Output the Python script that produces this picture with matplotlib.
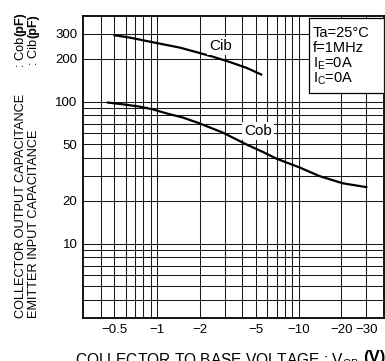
import matplotlib
matplotlib.use("Agg")
import matplotlib.pyplot as plt
from matplotlib.patches import Rectangle


FONT = ["Liberation Sans", "DejaVu Sans"]

# values (Vcb magnitude in V, capacitance in pF)
cib_vcb = [0.5, 0.64, 0.84, 1.1, 1.44, 1.89, 2.47, 3.25, 4.26, 5.44]
cib_pf = [293, 282, 267, 253, 240, 223, 207, 190, 173, 155]

cob_vcb = [0.45, 0.57, 0.75, 0.93, 1.16, 1.52, 1.99, 2.91, 4.26, 5.59,
           6.95, 10.2, 14.0, 20.5, 30.0]
cob_pf = [98.4, 95.7, 92.2, 88.2, 82.7, 77.2, 70.3, 60.5, 50.0, 44.2,
          39.7, 34.3, 29.9, 26.6, 25.0]

x_major = [0.5, 1, 2, 5, 10, 20, 30]
x_minor = [0.4, 0.6, 0.7, 0.8, 0.9, 3, 4, 6, 7, 8, 9]
x_labels = ["\u22120.5", "\u22121", "\u22122", "\u22125", "\u221210",
            "\u221220", "\u221230"]

y_major = [10, 20, 50, 100, 200, 300]
y_minor = [4, 5, 6, 7, 8, 9, 30, 40, 60, 70, 80, 90]
y_labels = ["10", "20", "50", "100", "200", "300"]

conditions = ["Ta=25\u00b0C", "f=1MHz", r"I$_\mathregular{E}$=0A",
              r"I$_\mathregular{C}$=0A"]


def main():
    plt.rcParams["font.family"] = FONT
    plt.rcParams["mathtext.default"] = "regular"

    fig = plt.figure(figsize=(3.85, 3.61), dpi=100)
    ax = fig.add_axes([83 / 385, 1 - 318 / 361, 301 / 385, 302 / 361])

    ax.set_xscale("log")
    ax.set_yscale("log")
    ax.set_xlim(0.3, 40)
    ax.set_ylim(3, 400)

    ax.set_xticks(x_major)
    ax.set_xticklabels(x_labels)
    ax.set_xticks(x_minor, minor=True)
    ax.set_xticklabels([], minor=True)
    ax.set_yticks(y_major)
    ax.set_yticklabels(y_labels)
    ax.set_yticks(y_minor, minor=True)
    ax.set_yticklabels([], minor=True)

    ax.tick_params(which="both", length=0, labelsize=9.5)
    ax.tick_params(axis="x", pad=4)
    ax.tick_params(axis="y", pad=4)

    ax.grid(which="both", color="#1a1a1a", linewidth=0.75)
    ax.set_axisbelow(True)
    for spine in ax.spines.values():
        spine.set_linewidth(1.3)

    ax.plot(cib_vcb, cib_pf, color="black", linewidth=1.6)
    ax.plot(cob_vcb, cob_pf, color="black", linewidth=1.6)

    box = dict(facecolor="white", edgecolor="none", pad=1.5)
    ax.text(2.8, 246, "Cib", fontsize=11, ha="center", va="center",
            bbox=box)
    ax.text(5.13, 61.8, "Cob", fontsize=11, ha="center", va="center",
            bbox=box)

    # conditions box in the top right corner
    ax.add_patch(Rectangle((0.751, 0.745), 0.249, 0.248,
                           transform=ax.transAxes, facecolor="white",
                           edgecolor="black", linewidth=0.9, zorder=3))
    for i, line in enumerate(conditions):
        ax.text(0.764, 0.930 - i * 0.0497, line, transform=ax.transAxes,
                fontsize=10.5, va="baseline", zorder=4)

    # axis titles
    fig.text(75 / 385, 1 - 351 / 361,
             r"COLLECTOR TO BASE VOLTAGE : V$_{CB}$",
             fontsize=11.2, ha="left", va="top")
    fig.text(386 / 385, 1 - 350 / 361, "(V)", fontsize=12,
             fontweight="bold", ha="right", va="top")

    y_bottom = 1 - 318 / 361
    fig.text(15 / 385, y_bottom, "COLLECTOR OUTPUT CAPACITANCE",
             fontsize=9.2, rotation=90, ha="left", va="bottom")
    fig.text(15 / 385, 1 - 37 / 361, ": Cob", fontsize=9.2,
             rotation=90, ha="left", va="top")
    fig.text(14 / 385, 1 - 12 / 361, "(pF)", fontsize=9,
             fontweight="bold", rotation=90, ha="left", va="top")

    fig.text(28 / 385, y_bottom, "EMITTER INPUT CAPACITANCE",
             fontsize=9.2, rotation=90, ha="left", va="bottom")
    fig.text(28 / 385, 1 - 39 / 361, ": Cib", fontsize=9.2,
             rotation=90, ha="left", va="top")
    fig.text(27 / 385, 1 - 14 / 361, "(pF)", fontsize=9,
             fontweight="bold", rotation=90, ha="left", va="top")

    fig.savefig("out.png", dpi=100)
    plt.close(fig)


if __name__ == "__main__":
    main()
